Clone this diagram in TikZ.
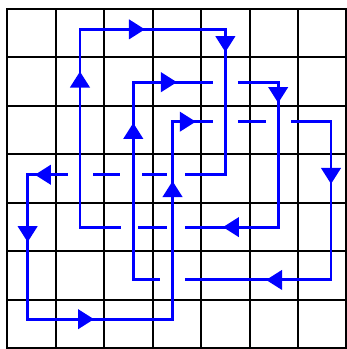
\documentclass[tikz,border=0pt]{standalone}
\usetikzlibrary{arrows.meta}
\tikzset{
  gridline/.style={line width=1.2pt, black},
  loopline/.style={line width=1.7pt, draw={rgb,255:red,0;green,0;blue,255}},
  flowmark/.style={loopline, -{Triangle[length=0.33cm,width=0.40cm]}},
}
\begin{document}
\begin{tikzpicture}
\useasboundingbox (-0.15,-0.015) rectangle (7.005,7.186);
\fill[white] (-0.15,-0.015) rectangle (7.005,7.186);
\draw[gridline] (0,0) grid (7,7);
\draw[gridline] (0,0) rectangle (7,7);
% corners of the closed loop
\coordinate (p1) at (1.50,2.50);
\coordinate (p2) at (1.50,6.58);
\coordinate (p3) at (4.50,6.58);
\coordinate (p4) at (4.50,3.58);
\coordinate (p5) at (0.42,3.58);
\coordinate (p6) at (0.42,0.60);
\coordinate (p7) at (3.41,0.60);
\coordinate (p8) at (3.41,4.675);
\coordinate (p9) at (6.68,4.675);
\coordinate (p10) at (6.68,1.41);
\coordinate (p11) at (2.60,1.41);
\coordinate (p12) at (2.60,5.49);
\coordinate (p13) at (5.59,5.49);
\coordinate (p14) at (5.59,2.50);
% loop pieces (horizontal runs broken where they pass under)
\draw[loopline] (2.34,2.50) -- (p1) -- (p2) -- (p3) -- (p4) -- (3.66,3.58);
\draw[loopline] (3.29,3.58) -- (2.78,3.58);
\draw[loopline] (2.32,3.58) -- (1.77,3.58);
\draw[loopline] (1.25,3.58) -- (p5) -- (p6) -- (p7) -- (p8) -- (4.24,4.675);
\draw[loopline] (4.76,4.675) -- (5.33,4.675);
\draw[loopline] (5.85,4.675) -- (p9) -- (p10) -- (3.66,1.41);
\draw[loopline] (3.15,1.41) -- (p11) -- (p12) -- (4.24,5.49);
\draw[loopline] (4.76,5.49) -- (p13) -- (p14) -- (3.66,2.50);
\draw[loopline] (3.29,2.50) -- (2.70,2.50);
% direction marks
\draw[flowmark] (1.50,5.20) -- (1.50,5.71);
\draw[flowmark] (2.40,6.58) -- (2.84,6.58);
\draw[flowmark] (4.50,6.50) -- (4.50,6.11);
\draw[flowmark] (1.00,3.58) -- (0.57,3.58);
\draw[flowmark] (0.42,2.60) -- (0.42,2.19);
\draw[flowmark] (1.30,0.60) -- (1.79,0.60);
\draw[flowmark] (3.41,3.00) -- (3.41,3.45);
\draw[flowmark] (3.50,4.675) -- (3.89,4.675);
\draw[flowmark] (6.68,3.80) -- (6.68,3.39);
\draw[flowmark] (5.80,1.41) -- (5.34,1.41);
\draw[flowmark] (2.60,4.20) -- (2.60,4.65);
\draw[flowmark] (3.00,5.49) -- (3.50,5.49);
\draw[flowmark] (5.59,5.40) -- (5.59,5.06);
\draw[flowmark] (4.90,2.50) -- (4.45,2.50);
\end{tikzpicture}
\end{document}
